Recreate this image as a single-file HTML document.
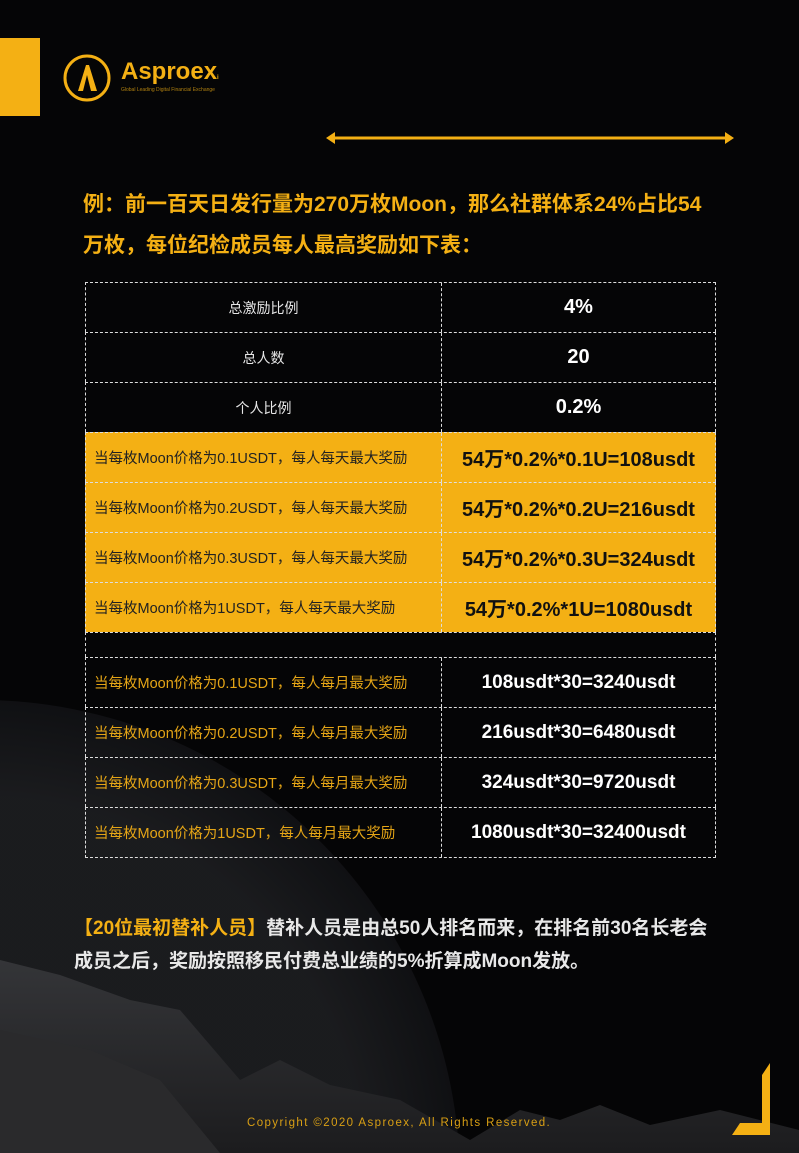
<!DOCTYPE html>
<html><head><meta charset="utf-8"><style>
*{margin:0;padding:0;box-sizing:border-box}
html,body{width:799px;height:1153px;overflow:hidden}
body{background:#050506;font-family:"Liberation Sans","Noto Sans CJK SC",sans-serif;position:relative}
.bg{position:absolute;left:0;top:0;width:799px;height:1153px}
.abs{position:absolute}
.row{position:absolute;left:85px;width:631px;height:50px;border-left:1.5px dashed #ddd;border-right:1.5px dashed #ddd;border-top:1.5px dashed #ddd}
.l,.r{position:absolute;top:0;height:100%;display:flex;align-items:center}
.l{left:0;width:356px;border-right:1.5px dashed #ddd}
.r{left:356px;right:0;justify-content:center;font-weight:bold;font-size:20px;color:#fff}
.c{justify-content:center;font-size:14px;color:#e6e6e6}
.y{background:#f4b014}
.y .l{color:#222;font-size:14.5px;padding-left:8px}
.y .r{color:#111}
.m .l{color:#e5a516;font-size:14.5px;padding-left:8px}
.m .r{font-size:19px}
</style></head><body>
<svg class="bg" viewBox="0 0 799 1153">
<defs>
<radialGradient id="pl" cx="0.5" cy="0.5" r="0.5"><stop offset="0.8" stop-color="#202124"/><stop offset="1" stop-color="#121316"/></radialGradient>
<linearGradient id="mt" x1="0" y1="0" x2="0" y2="1"><stop offset="0" stop-color="#343538"/><stop offset="1" stop-color="#1c1c1e"/></linearGradient>
</defs>
<circle cx="-20" cy="1180" r="480" fill="url(#pl)" opacity="0.8"/>
<path d="M0 960 L60 975 L130 1000 L180 1010 L240 1080 L280 1060 L330 1085 L400 1100 L470 1140 L520 1110 L560 1120 L600 1105 L650 1125 L720 1110 L799 1130 L799 1153 L0 1153 Z" fill="url(#mt)"/>
<path d="M0 1030 L90 1050 L160 1080 L220 1153 L0 1153Z" fill="#2a2a2c"/>
</svg>
<div class="abs" style="left:0;top:38px;width:40px;height:78px;background:#f4b014"></div>
<svg class="abs" style="left:62px;top:53px" width="50" height="50" viewBox="0 0 50 50"><circle cx="25" cy="25" r="22" fill="none" stroke="#f4b014" stroke-width="3"/><path d="M16 38 L24 12 L27 12 L35 38 L29 38 L25 22 L21 38Z" fill="#f4b014"/></svg>
<div class="abs" style="left:121px;top:58px;color:#f4b014;font-weight:bold;font-size:24px">Asproex<span style="font-size:6px">i</span></div>
<div class="abs" style="left:121px;top:87px;color:#b08010;font-size:5px">Global Leading Digital Financial Exchange</div>
<svg class="abs" style="left:326px;top:131px" width="408" height="14"><line x1="6" y1="7" x2="402" y2="7" stroke="#f4b014" stroke-width="3"/><path d="M0 7 L9 1 L9 13Z M408 7 L399 1 L399 13Z" fill="#f4b014"/></svg>
<div class="abs" style="left:83px;top:184px;width:660px;color:#f4b014;font-weight:bold;font-size:21px;line-height:41px">例：前一百天日发行量为270万枚Moon，那么社群体系24%占比54<br>万枚，每位纪检成员每人最高奖励如下表：</div>

<div>
<div class="row" style="top:282px"><div class="l c">总激励比例</div><div class="r">4%</div></div>
<div class="row" style="top:332px"><div class="l c">总人数</div><div class="r">20</div></div>
<div class="row" style="top:382px"><div class="l c">个人比例</div><div class="r">0.2%</div></div>
<div class="row y" style="top:432px"><div class="l">当每枚Moon价格为0.1USDT，每人每天最大奖励</div><div class="r">54万*0.2%*0.1U=108usdt</div></div>
<div class="row y" style="top:482px"><div class="l">当每枚Moon价格为0.2USDT，每人每天最大奖励</div><div class="r">54万*0.2%*0.2U=216usdt</div></div>
<div class="row y" style="top:532px"><div class="l">当每枚Moon价格为0.3USDT，每人每天最大奖励</div><div class="r">54万*0.2%*0.3U=324usdt</div></div>
<div class="row y" style="top:582px"><div class="l">当每枚Moon价格为1USDT，每人每天最大奖励</div><div class="r">54万*0.2%*1U=1080usdt</div></div>
<div class="row" style="top:632px;height:25px"></div>
<div class="row m" style="top:657px"><div class="l">当每枚Moon价格为0.1USDT，每人每月最大奖励</div><div class="r">108usdt*30=3240usdt</div></div>
<div class="row m" style="top:707px"><div class="l">当每枚Moon价格为0.2USDT，每人每月最大奖励</div><div class="r">216usdt*30=6480usdt</div></div>
<div class="row m" style="top:757px"><div class="l">当每枚Moon价格为0.3USDT，每人每月最大奖励</div><div class="r">324usdt*30=9720usdt</div></div>
<div class="row m" style="top:807px;border-bottom:1.5px dashed #ddd;height:51px"><div class="l">当每枚Moon价格为1USDT，每人每月最大奖励</div><div class="r">1080usdt*30=32400usdt</div></div>
</div>

<div class="abs" style="left:74px;top:912px;width:700px;color:#e8e8e8;font-weight:bold;font-size:19px;line-height:33px"><span style="color:#f4b014">【20位最初替补人员】</span>替补人员是由总50人排名而来，在排名前30名长老会<br>成员之后，奖励按照移民付费总业绩的5%折算成Moon发放。</div>
<div class="abs" style="left:247px;top:1117px;color:#d99f14;font-size:11.5px;letter-spacing:1.4px;white-space:nowrap">Copyright ©2020 Asproex, All Rights Reserved.</div>
<svg class="abs" style="left:730px;top:1063px" width="45" height="75"><path d="M40 0 L40 72 L2 72 L10 60 L32 60 L32 12Z" fill="#f4b014"/></svg>
</body></html>
